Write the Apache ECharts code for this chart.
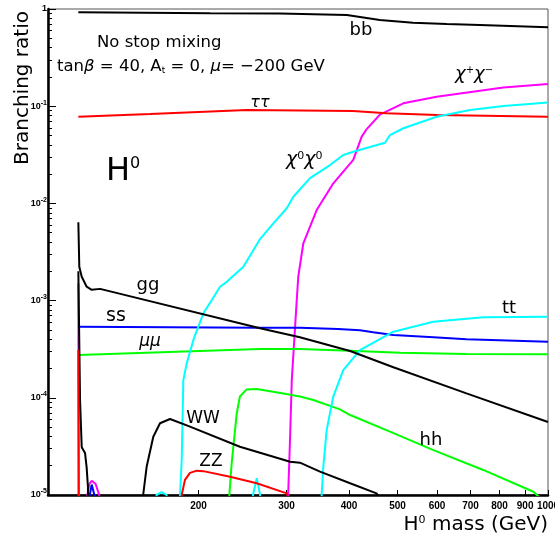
<!DOCTYPE html>
<html><head><meta charset="utf-8">
<script src="https://cdn.jsdelivr.net/npm/echarts@6/dist/echarts.min.js"></script>
<style>html,body{margin:0;padding:0;background:#fff}#c{width:555px;height:538px}</style>
</head><body><div id="c"></div>
<script>
// ---- data: [H0 mass (GeV), branching ratio] ----
const bb = [[115,0.925],[211,0.903],[291,0.90],[396,0.868],[461,0.77],[537,0.723],[627,0.701],[731,0.685],[1000,0.648]];
const tautau = [[115,0.078],[160,0.083],[250,0.0914],[407,0.089],[476,0.0845],[600,0.081],[1000,0.078]];
const charginos = [[115,1.5e-3],[115.3,1e-6],[119.3,1e-6],[119.9,1e-5],[121,1.3e-5],[122.3,1.4e-5],[124.5,1.3e-5],[126.6,1e-5],[127.5,1e-6],[301,1e-6],[302.2,1e-5],[304.8,3.68e-5],[307.3,1.52e-4],[314.4,1.01e-3],[316.6,1.76e-3],[324.1,3.89e-3],[344.6,8.55e-3],[372.1,0.0161],[407.9,0.028],[424,0.0486],[434,0.0582],[461,0.082],[513.6,0.107],[598.8,0.125],[814.3,0.156],[1000,0.169]];
const neutralinos = [[183,1e-6],[183.7,1e-5],[185.1,2.29e-5],[186.5,1.52e-4],[189.4,2.26e-4],[195.3,3.94e-4],[204.5,7.4e-4],[212.5,1.01e-3],[220.8,1.39e-3],[227.8,1.56e-3],[245.9,2.23e-3],[265.5,4.3e-3],[282.3,6.24e-3],[300.3,8.91e-3],[309.5,0.0117],[334.2,0.0182],[366.4,0.0248],[389.5,0.0315],[407.9,0.034],[472.1,0.0421],[483.1,0.0505],[513.6,0.0593],[598.8,0.078],[698.2,0.0914],[814.3,0.1005],[1000,0.109]];
const neutralinoBumps = [[163,1e-6],[164.8,1e-5],[168.8,1.07e-5],[172.7,1e-5],[174,1e-6],[255.5,1e-6],[257,1e-5],[261.5,1.49e-5],[265.6,1e-5],[267,1e-6]];
const topPair = [[350.5,1e-6],[352.7,1.04e-5],[355.3,1.95e-5],[360.9,4.67e-5],[372,1.03e-4],[389.5,1.93e-4],[420.7,3.1e-4],[490.6,4.79e-4],[589.6,6.06e-4],[742.4,6.73e-4],[1000,6.83e-4]];
const gluons = [[115,6.4e-3],[115.5,2.23e-3],[116.8,1.76e-3],[119.5,1.39e-3],[122.3,1.29e-3],[127.1,1.32e-3],[265.5,5.19e-4],[319,4.19e-4],[402,3.03e-4],[490.6,2.06e-4],[687,1.11e-4],[1000,5.64e-5]];
const strange = [[115,5.39e-4],[265.5,5.26e-4],[319,5.26e-4],[380,5.1e-4],[420.7,4.95e-4],[447,4.72e-4],[490.6,4.43e-4],[590,4.19e-4],[687,4.0e-4],[1000,3.78e-4]];
const strangeLow = [[120.6,1e-6],[121.2,1e-5],[122.3,1.28e-5],[123.8,1e-5],[124.4,1e-6]];
const muons = [[115,2.76e-4],[265.5,3.18e-4],[319,3.18e-4],[402,3.05e-4],[506,2.91e-4],[687,2.82e-4],[1000,2.81e-4]];
const higgsPair = [[229.5,1e-6],[230.5,1e-5],[233,2.12e-5],[238.5,6.93e-5],[242,1.03e-4],[249.7,1.22e-4],[261.5,1.23e-4],[295.5,1.11e-4],[319,1.03e-4],[339.4,9.5e-5],[383.7,7.6e-5],[402,6.65e-5],[483,4.48e-5],[590,2.9e-5],[742,1.81e-5],[935,1.08e-5],[960,9.5e-6]];
const wPair = [[115,2e-3],[115.9,9.5e-5],[116.8,3.1e-5],[118.6,2.7e-5],[119.5,1.9e-5],[120.2,1.2e-5],[120.8,1e-6],[154,1e-6],[155,1e-5],[157.5,1.95e-5],[162.4,3.98e-5],[167.5,5.47e-5],[175.4,6.05e-5],[192.3,5.05e-5],[242,3.14e-5],[305,2.2e-5],[319,2.15e-5],[350,1.74e-5],[402,1.32e-5],[454,1.04e-5],[470,8e-6]];
const zPair = [[115,3.1e-4],[115.3,1e-6],[184,1e-6],[185.1,1e-5],[187.9,1.43e-5],[192.3,1.69e-5],[198.4,1.78e-5],[204.5,1.76e-5],[231.2,1.54e-5],[261.5,1.32e-5],[300.3,1.04e-5],[305,8e-6]];

// ---- tick labels ----
const massTicks = [200,300,400,500,600,700,800,900,1000];
const brExponents = [-5,-4,-3,-2,-1,0];
const minorMantissas = [2,3,4,5,6,7,8,9];

const minorExps = [];
brExponents.slice(0,-1).forEach(e => minorMantissas.forEach(m => minorExps.push(e + Math.log10(m))));

const FONT = '"DejaVu Sans", sans-serif';
const r = (size, o) => Object.assign({fontSize:size, fontFamily:FONT, color:'#000', fill:'#000', lineHeight:size}, o||{});
const T = (x, y, text, rich, align, extra) => Object.assign({type:'text', x:x, y:y, silent:true, z:100,
  style:{text:text, rich:rich, fill:'#000', align:align||'center', verticalAlign:'middle'}}, extra||{});

const lines = [
  {name:'chi+chi-', data:charginos, color:'#ff00ff'},
  {name:'ssLow', data:strangeLow, color:'#0000ff'},
  {name:'bb', data:bb, color:'#000000'},
  {name:'tautau', data:tautau, color:'#ff0000'},
  {name:'ss', data:strange, color:'#0000ff'},
  {name:'mumu', data:muons, color:'#00ff00'},
  {name:'hh', data:higgsPair, color:'#00ff00'},
  {name:'tt', data:topPair, color:'#00ffff'},
  {name:'chi0chi0b', data:neutralinoBumps, color:'#00ffff'},
  {name:'chi0chi0', data:neutralinos, color:'#00ffff'},
  {name:'WW', data:wPair, color:'#000000'},
  {name:'gg', data:gluons, color:'#000000'},
  {name:'ZZ', data:zPair, color:'#ff0000'}
];

const chart = echarts.init(document.getElementById('c'), null, {renderer:'canvas'});
chart.setOption({
  animation:false,
  backgroundColor:'#ffffff',
  grid:{left:48, right:7, top:9, bottom:43, show:true, borderColor:'#555', borderWidth:1, backgroundColor:'transparent', containLabel:false, outerBoundsMode:'none'},
  xAxis:[
    {type:'log', logBase:10, min:100, max:1000, position:'bottom',
     axisLine:{show:true, onZero:false, lineStyle:{color:'#000', width:2.5}},
     axisTick:{show:false}, axisLabel:{show:false}, splitLine:{show:false}, minorTick:{show:false}},
    {type:'value', min:2, max:3, position:'bottom',
     axisLine:{show:false, onZero:false},
     axisTick:{show:true, inside:true, length:5, customValues:massTicks.map(v => Math.log10(v)), lineStyle:{color:'#000', width:1}},
     axisLabel:{show:true, customValues:massTicks.map(v => Math.log10(v)), formatter:v => String(Math.round(Math.pow(10, v))),
       fontFamily:'"Liberation Sans", sans-serif', fontWeight:'bold', fontSize:10, color:'#000', margin:6},
     splitLine:{show:false}}
  ],
  yAxis:[
    {type:'log', logBase:10, min:1e-5, max:1, position:'left',
     axisLine:{show:true, onZero:false, lineStyle:{color:'#000', width:2.5}},
     axisTick:{show:false}, axisLabel:{show:false}, splitLine:{show:false}, minorTick:{show:false}},
    {type:'value', min:-5, max:0, position:'left',
     axisLine:{show:false, onZero:false},
     axisTick:{show:true, inside:true, length:8, customValues:brExponents, lineStyle:{color:'#000', width:1}},
     axisLabel:{show:true, customValues:brExponents, margin:1,
       formatter:v => { const e = Math.round(v); return e === 0 ? '{b|1}' : '{b|10}{s|' + e + '}'; },
       rich:{b:{fontFamily:'"Liberation Sans", sans-serif', fontWeight:'bold', fontSize:9, color:'#000', lineHeight:14},
             s:{fontFamily:'"Liberation Sans", sans-serif', fontWeight:'bold', fontSize:7, color:'#000', lineHeight:8, verticalAlign:'top'}}},
     splitLine:{show:false}},
    {type:'value', min:-5, max:0, position:'left',
     axisLine:{show:false, onZero:false},
     axisTick:{show:true, inside:true, length:4, customValues:minorExps, lineStyle:{color:'#000', width:1}},
     axisLabel:{show:false}, splitLine:{show:false}}
  ],
  series: lines.map(s => ({type:'line', name:s.name, data:s.data, xAxisIndex:0, yAxisIndex:0,
    showSymbol:false, symbol:'none', clip:true, silent:true, smooth:false,
    lineStyle:{color:s.color, width:2}, itemStyle:{color:s.color}})),
  graphic:[
    T(97, 42.5, '{a|No stop mixing}', {a:r(16.5)}, 'left'),
    T(57, 67, '{a|tan}{i|β}{a| = 40, A}{t|t}{a| = 0, }{i|μ}{a|= −200 GeV}',
      {a:r(16.5), i:r(16.5,{fontStyle:'italic'}), t:r(9,{verticalAlign:'bottom'})}, 'left'),
    T(361, 30.7, '{a|bb}', {a:r(18)}),
    T(260, 102.4, '{i|ττ}', {i:r(16,{fontStyle:'italic'})}),
    T(455, 74, '{c|χ}{s|+}{c|χ}{s|−}', {c:r(18,{fontStyle:'italic'}), s:r(10,{verticalAlign:'top'})}, 'left'),
    T(106, 171.8, '{h|H}{s|0}', {h:r(32), s:r(16,{verticalAlign:'top'})}, 'left'),
    T(286, 160, '{c|χ}{s|0}{c|χ}{s|0}', {c:r(19,{fontStyle:'italic'}), s:r(11,{verticalAlign:'top'})}, 'left'),
    T(148, 285.7, '{a|gg}', {a:r(18)}),
    T(116, 316.4, '{a|ss}', {a:r(19)}),
    T(150, 342, '{i|μμ}', {i:r(17,{fontStyle:'italic'})}),
    T(509, 308.7, '{a|tt}', {a:r(18)}),
    T(203, 419, '{a|WW}', {a:r(17)}),
    T(211, 462, '{a|ZZ}', {a:r(17)}),
    T(431, 440, '{a|hh}', {a:r(18)}),
    T(23, 88, '{a|Branching ratio}', {a:r(20)}, 'center', {rotation:Math.PI/2}),
    T(548, 524.7, '{h|H}{s|0}{h| mass (GeV)}', {h:r(20), s:r(11,{verticalAlign:'top'})}, 'right')
  ]
});
</script></body></html>
